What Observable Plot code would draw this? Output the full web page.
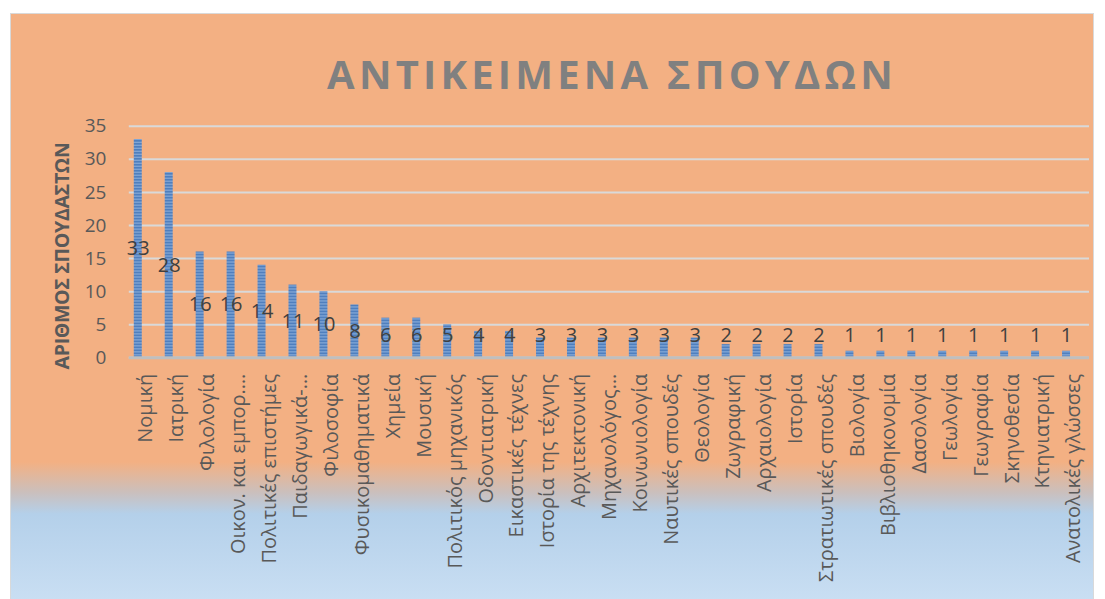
<!DOCTYPE html>
<html>
<head>
<meta charset="utf-8">
<script src="https://cdn.jsdelivr.net/npm/d3@7"></script>
<script src="https://cdn.jsdelivr.net/npm/@observablehq/plot@0.6"></script>
<style>
  html, body { margin: 0; padding: 0; background: #fff; width: 1105px; height: 599px; overflow: hidden; }
  #frame {
    position: absolute; left: 10px; top: 13px; width: 1084px; height: 590px;
    border: 1px solid #D9D9D9; box-sizing: border-box;
    background: linear-gradient(to bottom, #F3B083 0px, #F3B083 448px, #CBBFBC 478px, #B4D0EA 500px, #CADFF3 590px);
    font-family: "Open Sans", sans-serif;
  }
  #title {
    position: absolute; left: 120px; right: 0; top: 40px; text-align: center;
    font-weight: bold; font-size: 40px; letter-spacing: 4.2px; color: #808080;
    line-height: 1;
  }
  #ytitle {
    position: absolute; left: 50px; top: 242px; transform: translate(-50%, -50%) rotate(-90deg);
    white-space: nowrap; font-weight: bold; font-size: 19.5px; letter-spacing: -0.3px; color: #595959;
  }
  #chart { position: absolute; left: 0; top: 0; }
</style>
</head>
<body>
<div id="frame">
  <div id="title">ΑΝΤΙΚΕΙΜΕΝΑ ΣΠΟΥΔΩΝ</div>
  <div id="ytitle">ΑΡΙΘΜΟΣ ΣΠΟΥΔΑΣΤΩΝ</div>
  <div id="chart"></div>
</div>
<script>
const categories = [
  "Νομική", "Ιατρική", "Φιλολογία", "Οικον. και εμπορ.…", "Πολιτικές επιστήμες",
  "Παιδαγωγικά-…", "Φιλοσοφία", "Φυσικομαθηματικά", "Χημεία", "Μουσική",
  "Πολιτικός μηχανικός", "Οδοντιατρική", "Εικαστικές τέχνες", "Ιστορία της τέχνης", "Αρχιτεκτονική",
  "Μηχανολόγος…", "Κοινωνιολογία", "Ναυτικές σπουδές", "Θεολογία", "Ζωγραφική",
  "Αρχαιολογία", "Ιστορία", "Στρατιωτικές σπουδές", "Βιολογία", "Βιβλιοθηκονομία",
  "Δασολογία", "Γεωλογία", "Γεωγραφία", "Σκηνοθεσία", "Κτηνιατρική", "Ανατολικές γλώσσες"
];
const values = [33, 28, 16, 16, 14, 11, 10, 8, 6, 6, 5, 4, 4, 3, 3, 3, 3, 3, 3, 2, 2, 2, 2, 1, 1, 1, 1, 1, 1, 1, 1];
const yTicks = [0, 5, 10, 15, 20, 25, 30, 35];

const data = categories.map((c, i) => ({cat: c, v: values[i]}));

const chart = Plot.plot({
  width: 1084,
  height: 586,
  marginLeft: 118,
  marginRight: 4,
  marginTop: 112,
  marginBottom: 242,
  style: {background: "transparent", fontFamily: "Open Sans, sans-serif"},
  x: {type: "band", domain: categories, paddingInner: 0, paddingOuter: 0},
  y: {domain: [0, 35]},
  marks: [
    Plot.gridY(yTicks, {stroke: "#D9D9D9", strokeWidth: 2, strokeOpacity: 1}),
    Plot.barY(data, {x: "cat", y: "v", fill: "url(#stripes)", insetLeft: 4, insetRight: 19}),
    Plot.ruleY([0], {stroke: "#BFBFBF", strokeWidth: 3}),
    Plot.text(data, {x: "cat", y: d => Math.max(d.v / 2, 3.4), text: d => String(d.v),
      dx: -7.5, fontSize: 20, fill: "#404040"}),
    Plot.axisY(yTicks, {tickSize: 0, tickPadding: 23, fontSize: 19, color: "#595959", label: null}),
    Plot.axisX({tickSize: 0, tickPadding: 16, tickRotate: -90, fontSize: 20, color: "#595959", label: null})
  ]
});

const svg = d3.select(chart);
const defs = svg.insert("defs", ":first-child");
const pat = defs.append("pattern").attr("id", "stripes").attr("patternUnits", "userSpaceOnUse")
  .attr("width", 8).attr("height", 3);
pat.append("rect").attr("width", 8).attr("height", 3).attr("fill", "#4F7FBE");
pat.append("rect").attr("y", 2).attr("width", 8).attr("height", 1).attr("fill", "#8FB1DC");

document.getElementById("chart").appendChild(chart);
</script>
</body>
</html>
